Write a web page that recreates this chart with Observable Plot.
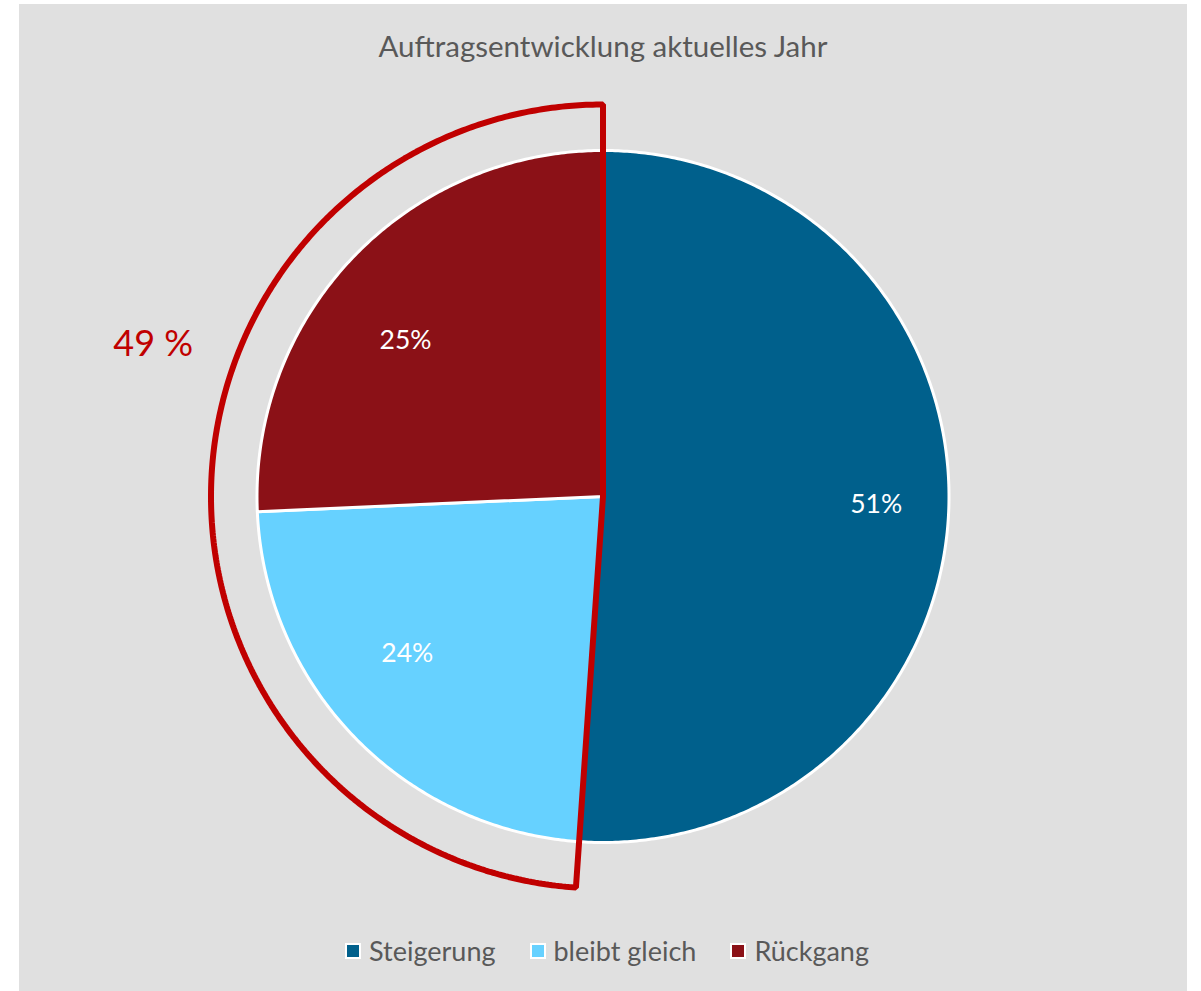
<!DOCTYPE html>
<html><head><meta charset="utf-8">
<script src="https://cdn.jsdelivr.net/npm/d3@7"></script>
<script src="https://cdn.jsdelivr.net/npm/@observablehq/plot@0.6"></script>
<style>
html,body{margin:0;padding:0;background:#fff;width:1201px;height:991px;overflow:hidden;}
#panel{position:absolute;left:19px;top:4px;width:1168px;height:987px;background:#e0e0e0;font-family:Lato,"Open Sans",sans-serif;}
#title{position:absolute;left:0;width:100%;top:27px;text-align:center;font-size:29.5px;color:#595959;line-height:1;}
#chart{position:absolute;left:0;top:56px;}
#legend{position:absolute;left:0;width:100%;top:933px;display:flex;justify-content:center;align-items:center;font-size:27px;color:#595959;line-height:1;padding-left:8px;box-sizing:border-box;}
.item{display:flex;align-items:center;margin:0 17px;}
.sw{width:16px;height:16px;box-sizing:border-box;border:2px solid #fff;margin-right:8px;}
</style></head>
<body>
<div id="panel">
  <div id="title"></div>
  <div id="chart"></div>
  <div id="legend"></div>
</div>
<script>
// ---- data ----
const chartTitle = "Auftragsentwicklung aktuelles Jahr";
const categories = ["Steigerung", "bleibt gleich", "Rückgang"];
const shares = [51.1, 23.2, 25.7];
const shareLabels = ["51%", "24%", "25%"];
const highlightCategories = ["bleibt gleich", "Rückgang"];
const highlightLabel = "49 %";
const colors = ["#00608c", "#66d1ff", "#8b1117"];

// ---- layout ----
const W = 1168, H = 870;
const R = 346;              // pie radius in px
const cx = 583.5, cy = 436; // pie centre inside the svg
const outlineR = 392 / R;
const labelRx = 0.79, labelRy = 0.65;

document.getElementById("title").textContent = chartTitle;

const total = d3.sum(shares);
let acc = 0;
const slices = categories.map((c, i) => {
  const a0 = acc / total * 2 * Math.PI;
  acc += shares[i];
  const a1 = acc / total * 2 * Math.PI;
  return {c, i, a0, a1, mid: (a0 + a1) / 2, label: shareLabels[i], color: colors[i]};
});

function wedge(a0, a1, r, tag) {
  const pts = [{x: 0, y: 0, tag}];
  const n = Math.max(2, Math.ceil((a1 - a0) / (Math.PI / 360)));
  for (let k = 0; k <= n; k++) {
    const a = a0 + (a1 - a0) * k / n;
    pts.push({x: r * Math.sin(a), y: r * Math.cos(a), tag});
  }
  return pts;
}

const hl = slices.filter(s => highlightCategories.includes(s.c));
const hlA0 = d3.min(hl, s => s.a0), hlA1 = d3.max(hl, s => s.a1);
const outline = wedge(hlA0, hlA1, outlineR, "hl");

const marks = slices.map(s =>
  Plot.line(wedge(s.a0, s.a1, 1, s.c), {
    x: "x", y: "y", fill: s.color, stroke: "#ffffff", strokeWidth: 3,
    curve: "linear-closed", strokeLinejoin: "round"
  })
);
marks.push(Plot.line(outline, {
  x: "x", y: "y", fill: "none", stroke: "#c00000", strokeWidth: 6,
  curve: "linear-closed", strokeLinejoin: "miter"
}));
marks.push(Plot.text(slices, {
  x: s => labelRx * Math.sin(s.mid), y: s => labelRy * Math.cos(s.mid),
  text: "label", fill: "#ffffff", fontSize: 26.5, fontFamily: "Lato"
}));
marks.push(Plot.text([highlightLabel], {
  x: -1.30, y: 0.44, text: d => d, fill: "#c00000", fontSize: 36, fontFamily: "Lato"
}));

const chart = Plot.plot({
  width: W, height: H,
  margin: 0,
  x: {axis: null, domain: [-cx / R, (W - cx) / R]},
  y: {axis: null, domain: [-(H - cy) / R, cy / R]},
  style: {background: "transparent", overflow: "visible"},
  marks
});
document.getElementById("chart").appendChild(chart);

const legend = document.getElementById("legend");
categories.forEach((c, i) => {
  const it = document.createElement("div"); it.className = "item";
  const sw = document.createElement("div"); sw.className = "sw"; sw.style.background = colors[i];
  const tx = document.createElement("span"); tx.textContent = c;
  it.appendChild(sw); it.appendChild(tx); legend.appendChild(it);
});
</script>
</body></html>
